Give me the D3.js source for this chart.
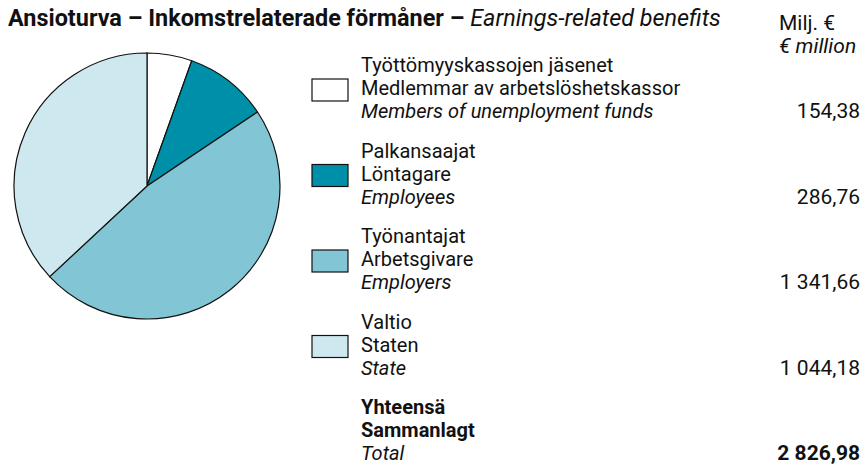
<!DOCTYPE html>
<html>
<head>
<meta charset="utf-8">
<script src="https://cdn.jsdelivr.net/npm/d3@7"></script>
<style>
  body { margin: 0; background: #fff; }
  svg text { font-family: Roboto, "Noto Sans", sans-serif; fill: #111; }
</style>
</head>
<body>
<div class="chart"></div>
<script>
// data
var labelsFi = ["Työttömyyskassojen jäsenet", "Palkansaajat", "Työnantajat", "Valtio"];
var labelsSv = ["Medlemmar av arbetslöshetskassor", "Löntagare", "Arbetsgivare", "Staten"];
var labelsEn = ["Members of unemployment funds", "Employees", "Employers", "State"];
var values = [154.38, 286.76, 1341.66, 1044.18];
var colors = ["#ffffff", "#008fa9", "#82c6d5", "#cee8ef"];

var w = 867, h = 464;

var svg = d3.select(".chart")
    .append("svg")
    .attr("width", w)
    .attr("height", h);

// finnish number format
var fi = d3.formatLocale({decimal: ",", thousands: " ", grouping: [3], currency: ["", ""]});
var fmt = fi.format(",.2f");

// title
var title = svg.append("text")
    .attr("x", 8)
    .attr("y", 26)
    .attr("font-size", 23.4);
title.append("tspan")
    .attr("font-weight", "bold")
    .text("Ansioturva – Inkomstrelaterade förmåner – ");
title.append("tspan")
    .attr("font-style", "italic")
    .text("Earnings-related benefits");

// unit
svg.append("text")
    .attr("x", 779).attr("y", 30)
    .attr("font-size", 21)
    .text("Milj. €");
svg.append("text")
    .attr("x", 779).attr("y", 53)
    .attr("font-size", 21)
    .attr("font-style", "italic")
    .text("€ million");

// pie
var pie = d3.pie().sort(null).value(function(d) { return d; });
var arc = d3.arc().innerRadius(0).outerRadius(133);

svg.append("g")
    .attr("transform", "translate(147,186)")
  .selectAll("path")
    .data(pie(values))
    .enter()
    .append("path")
    .attr("d", arc)
    .style("fill", function(d, i) { return colors[i]; })
    .style("stroke", "#111")
    .style("stroke-width", 1.2);

// legend
var rowY = d3.scaleLinear().domain([0, 4]).range([72, 414]);
var lineH = 23;

var legend = svg.selectAll(".legend")
    .data(values)
    .enter().append("g")
    .attr("class", "legend")
    .attr("transform", function(d, i) { return "translate(0," + rowY(i) + ")"; });

legend.append("rect")
    .attr("x", 312)
    .attr("y", 7)
    .attr("width", 36)
    .attr("height", 22)
    .style("fill", function(d, i) { return colors[i]; })
    .style("stroke", "#111")
    .style("stroke-width", 1.2);

legend.append("text")
    .attr("x", 361).attr("y", 0)
    .attr("font-size", 20)
    .text(function(d, i) { return labelsFi[i]; });
legend.append("text")
    .attr("x", 361).attr("y", lineH)
    .attr("font-size", 20)
    .text(function(d, i) { return labelsSv[i]; });
legend.append("text")
    .attr("x", 361).attr("y", lineH * 2)
    .attr("font-size", 20)
    .attr("font-style", "italic")
    .text(function(d, i) { return labelsEn[i]; });
legend.append("text")
    .attr("x", 860).attr("y", lineH * 2)
    .attr("font-size", 21)
    .style("text-anchor", "end")
    .text(function(d) { return fmt(d); });

// total
var total = svg.append("g")
    .attr("transform", "translate(0," + rowY(4) + ")");
total.append("text")
    .attr("x", 361).attr("y", 0)
    .attr("font-size", 20).attr("font-weight", "bold")
    .text("Yhteensä");
total.append("text")
    .attr("x", 361).attr("y", lineH)
    .attr("font-size", 20).attr("font-weight", "bold")
    .text("Sammanlagt");
total.append("text")
    .attr("x", 361).attr("y", lineH * 2)
    .attr("font-size", 20).attr("font-style", "italic")
    .text("Total");
total.append("text")
    .attr("x", 860).attr("y", lineH * 2)
    .attr("font-size", 21).attr("font-weight", "bold")
    .style("text-anchor", "end")
    .text(fmt(d3.sum(values)));
</script>
</body>
</html>
